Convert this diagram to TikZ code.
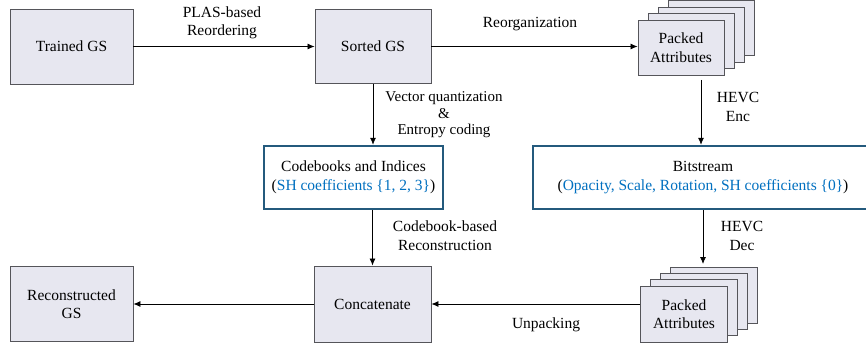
\documentclass[tikz,border=0pt]{standalone}
\usepackage{fontspec}
\setmainfont{Liberation Serif}
\usepackage{xcolor}
\definecolor{boxfill}{RGB}{231, 231, 240}
\definecolor{boxline}{RGB}{85, 85, 90}
\definecolor{blueline}{RGB}{36, 90, 125}
\definecolor{bluetext}{RGB}{0, 112, 192}
\usetikzlibrary{arrows.meta}

\begin{document}
\begin{tikzpicture}[x=1pt, y=-1pt,
		font=\fontsize{15.5}{18.5}\selectfont,
		graybox/.style={draw=boxline, fill=boxfill, line width=0.9pt, align=center, inner sep=0pt},
		bluebox/.style={draw=blueline, fill=white, line width=2.4pt, align=center, inner sep=0pt},
		flow/.style={line width=0.8pt, -{Latex[length=7pt, width=6pt]}},
		lbl/.style={align=center, inner sep=0pt}]
		\clip (0,0) rectangle (866,347);
		% main boxes
		\node[graybox, minimum width=123, minimum height=75] (trained) at (71.5,46.5) {Trained GS};
		\node[graybox, minimum width=116, minimum height=74] (sorted) at (373,46.5) {Sorted GS};
		\node[graybox, minimum width=117, minimum height=76] (concat) at (372.5,304) {Concatenate};
		\node[graybox, minimum width=123, minimum height=75] (recon) at (71.5,304) {Reconstructed\\GS};
		\node[bluebox, minimum width=179, minimum height=63] (cb) at (353.5,177.5) {Codebooks and Indices\\(\textcolor{bluetext}{SH coefficients \{1, 2, 3\}})};
		\node[bluebox, minimum width=340, minimum height=63] (bits) at (703,177.5) {Bitstream\\(\textcolor{bluetext}{Opacity, Scale, Rotation, SH coefficients \{0\}})};
		% stacked packed attributes
		\foreach \k in {3,2,1}{
			\node[graybox, minimum width=86, minimum height=55] (packAb\k) at (681+10*\k, 47.5-6.5*\k) {};
			\node[graybox, minimum width=87, minimum height=56] (packBb\k) at (684+10*\k, 314-6.2*\k) {};
		}
		\node[graybox, minimum width=86, minimum height=55] (packA) at (681,47.5) {Packed\\Attributes};
		\node[graybox, minimum width=87, minimum height=56] (packB) at (684,314) {Packed\\Attributes};
		% free ends of the HEVC arrows
		\coordinate (encS) at (701,80);
		\coordinate (decE) at (703,264);
		% connectors
		\draw[flow] (trained) -- (sorted);
		\draw[flow] (sorted) -- (sorted -| packA.west);
		\draw[flow] (sorted) -- (sorted |- cb.north);
		\draw[flow] (encS) -- (encS |- bits.north);
		\draw[flow] (cb.south -| concat) -- (concat);
		\draw[flow] (bits.south -| decE) -- (decE);
		\draw[flow] (concat -| packB.west) -- (concat);
		\draw[flow] (concat) -- (recon);
		% labels
		\node[lbl] (lplas) at (222,23) {PLAS-based\\Reordering};
		\node[lbl] (lreorg) at (530,24) {Reorganization};
		\node[lbl, font=\fontsize{15}{16.5}\selectfont] (lvq) at (444,115) {Vector quantization\\\&\\Entropy coding};
		\node[lbl] (lenc) at (738,107) {HEVC\\Enc};
		\node[lbl] (lcbr) at (445,235.5) {Codebook-based\\Reconstruction};
		\node[lbl] (ldec) at (742,236) {HEVC\\Dec};
		\node[lbl] (lunp) at (546,325) {Unpacking};
	\end{tikzpicture}
\end{document}
